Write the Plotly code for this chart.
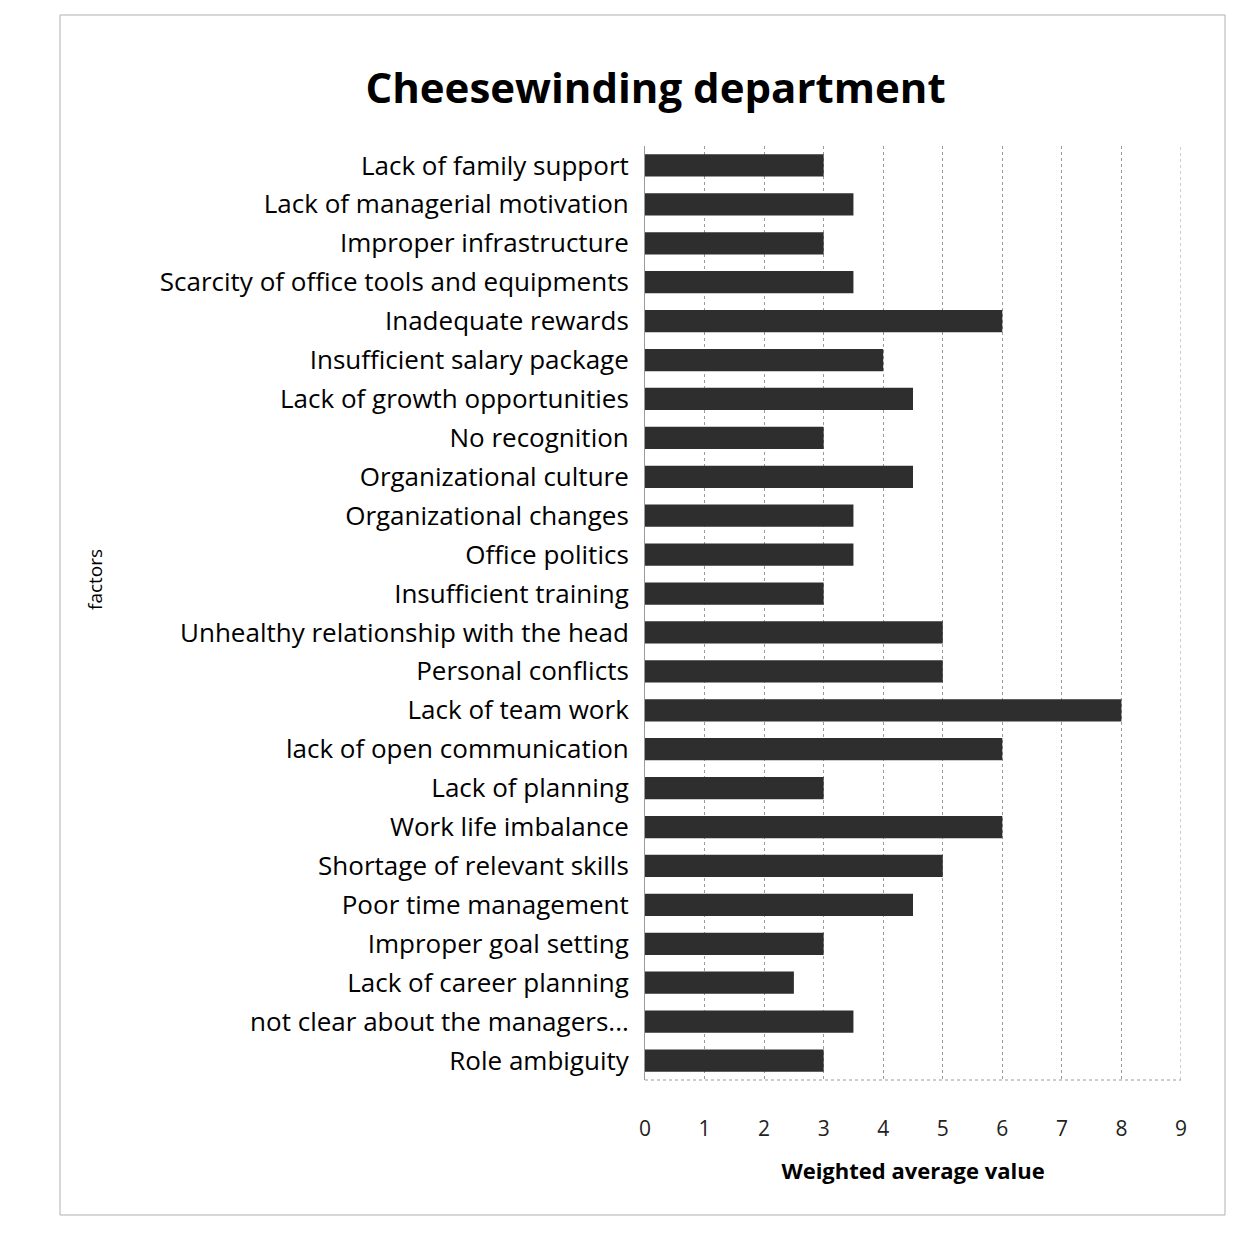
import plotly.graph_objects as go

factors = [
    "Lack of family support",
    "Lack of managerial motivation",
    "Improper infrastructure",
    "Scarcity of office tools and equipments",
    "Inadequate rewards",
    "Insufficient salary package",
    "Lack of growth opportunities",
    "No recognition",
    "Organizational culture",
    "Organizational changes",
    "Office politics",
    "Insufficient training",
    "Unhealthy relationship with the head",
    "Personal conflicts",
    "Lack of team work",
    "lack of open communication",
    "Lack of planning",
    "Work life imbalance",
    "Shortage of relevant skills",
    "Poor time management",
    "Improper goal setting",
    "Lack of career planning",
    "not clear about the managers...",
    "Role ambiguity",
]
weighted_values = [3.0, 3.5, 3.0, 3.5, 6.0, 4.0, 4.5, 3.0, 4.5, 3.5, 3.5, 3.0,
                   5.0, 5.0, 8.0, 6.0, 3.0, 6.0, 5.0, 4.5, 3.0, 2.5, 3.5, 3.0]
x_ticks = [0, 1, 2, 3, 4, 5, 6, 7, 8, 9]

FONT = "Open Sans"

fig = go.Figure(go.Bar(
    x=weighted_values,
    y=factors,
    orientation="h",
    marker=dict(color="#2e2e2e", line=dict(width=0)),
))

fig.update_layout(
    width=1251, height=1233,
    paper_bgcolor="white", plot_bgcolor="white",
    margin=dict(l=645, r=70, t=146, b=153),
    bargap=0.43,
    showlegend=False,
    font=dict(family=FONT, color="#111111"),
    title=dict(
        text="<b>Cheesewinding department</b>",
        x=0.524, xanchor="center",
        y=1 - 88 / 1233, yanchor="middle", yref="container",
        font=dict(size=42, family=FONT, color="#000000"),
    ),
    xaxis=dict(
        range=[0, 9], tickvals=x_ticks, ticktext=[str(v) for v in x_ticks],
        showgrid=True, gridcolor="#9a9a9a", griddash="dot", gridwidth=1,
        zeroline=False, showline=False,
        ticks="outside", ticklen=30, tickcolor="rgba(0,0,0,0)",
        tickfont=dict(size=21, family=FONT, color="#222222"),
        title=dict(text="<b>Weighted average value</b>", standoff=22,
                   font=dict(size=22, family=FONT, color="#000000")),
    ),
    yaxis=dict(
        autorange="reversed",
        showgrid=False, zeroline=False, showline=True,
        linecolor="#9a9a9a", linewidth=1,
        ticks="outside", ticklen=10, tickcolor="rgba(0,0,0,0)",
        tickfont=dict(size=26, family=FONT, color="#000000"),
    ),
    annotations=[dict(
        text="factors", textangle=-90, showarrow=False,
        xref="paper", yref="paper",
        x=(95 - 645) / (1251 - 645 - 70), y=1 - (580 - 146) / (1233 - 146 - 153),
        xanchor="center", yanchor="middle",
        font=dict(size=19, family=FONT, color="#000000"),
    )],
    shapes=[
        dict(type="line", xref="x", yref="paper", x0=9, x1=9, y0=0, y1=1,
             line=dict(color="#9a9a9a", width=1, dash="dot")),
        dict(type="line", xref="x", yref="paper", x0=0, x1=9, y0=0, y1=0,
             line=dict(color="#9a9a9a", width=1, dash="dot")),
        dict(type="rect", xref="paper", yref="paper",
             x0=(60 - 645) / 536, x1=(1225 - 645) / 536,
             y0=1 - (1215 - 146) / 934, y1=1 - (15 - 146) / 934,
             line=dict(color="#b0b0b0", width=1)),
    ],
)

fig.write_html("out.html")
